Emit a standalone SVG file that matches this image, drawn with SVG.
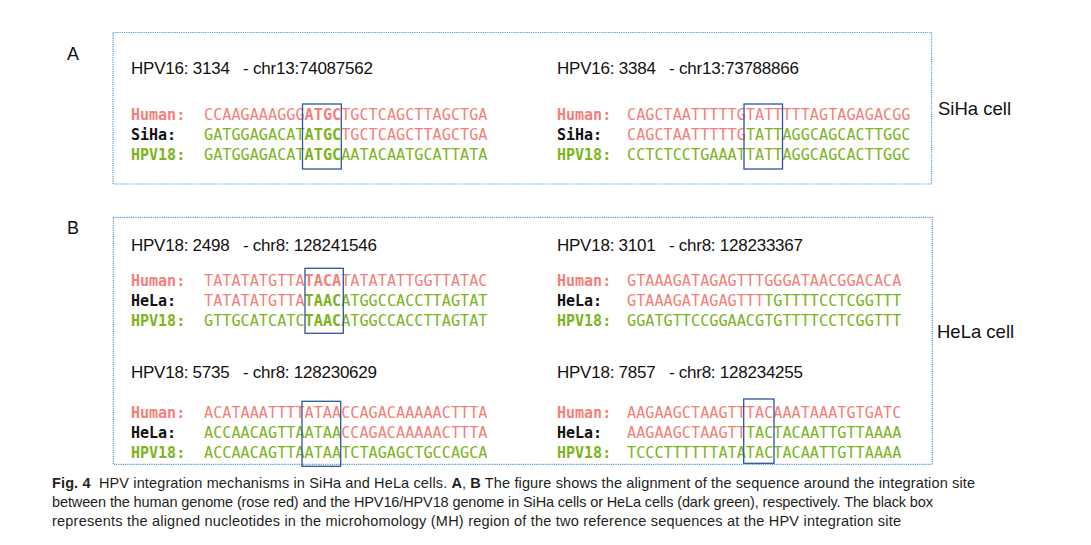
<svg xmlns="http://www.w3.org/2000/svg" width="1091" height="545" viewBox="0 0 1091 545">
<style>
.frame{fill:none;stroke:#5B9BD5;stroke-width:1.2;stroke-dasharray:1.2 1}
.mh{fill:none;stroke:#2F5597;stroke-width:1.3}
.seq{font-family:"DejaVu Sans Mono","Liberation Mono",monospace;font-size:15.2px}
.lab{font-family:"DejaVu Sans Mono","Liberation Mono",monospace;font-size:15px;font-weight:bold}
.p{fill:#F47F7A}
.g{fill:#7CB41C}
.k{fill:#111}
.b{font-weight:bold}
.hdr{font-family:"Liberation Sans",Arial,sans-serif;font-size:17px;fill:#111}
.pl{font-family:"Liberation Sans",Arial,sans-serif;font-size:18px;fill:#111}
.cell{font-family:"Liberation Sans",Arial,sans-serif;font-size:18.5px;fill:#111}
.cap{font-family:"Liberation Sans",Arial,sans-serif;font-size:14.5px;fill:#231F20}
</style>

<text class="pl" x="67" y="60">A</text>
<text class="pl" x="67" y="234">B</text>

<g id="panelA">
<rect class="frame" x="113" y="32.5" width="818.5" height="151.5"/>
<g id="A1">
<text class="hdr" x="131" y="74" textLength="242" xml:space="preserve">HPV16: 3134   - chr13:74087562</text>
<text class="lab p" x="131" y="120">Human:</text>
<text class="lab k" x="131" y="140">SiHa:</text>
<text class="lab g" x="131" y="160">HPV18:</text>
<text class="seq" x="204" y="120"><tspan class="p">CCAAGAAAGGG</tspan><tspan class="p b">ATGC</tspan><tspan class="p">TGCTCAGCTTAGCTGA</tspan></text>
<text class="seq" x="204" y="140"><tspan class="g">GATGGAGACAT</tspan><tspan class="g b">ATGC</tspan><tspan class="p">TGCTCAGCTTAGCTGA</tspan></text>
<text class="seq" x="204" y="160"><tspan class="g">GATGGAGACAT</tspan><tspan class="g b">ATGC</tspan><tspan class="g">AATACAATGCATTATA</tspan></text>
<rect class="mh" x="302.5" y="104" width="38.8" height="65"/>
</g>
<g id="A2">
<text class="hdr" x="557" y="74" textLength="242" xml:space="preserve">HPV16: 3384   - chr13:73788866</text>
<text class="lab p" x="557" y="120">Human:</text>
<text class="lab k" x="557" y="140">SiHa:</text>
<text class="lab g" x="557" y="160">HPV18:</text>
<text class="seq" x="627" y="120"><tspan class="p">CAGCTAATTTTTGTATTTTTAGTAGAGACGG</tspan></text>
<text class="seq" x="627" y="140"><tspan class="p">CAGCTAATTTTTG</tspan><tspan class="g">TATTAGGCAGCACTTGGC</tspan></text>
<text class="seq" x="627" y="160"><tspan class="g">CCTCTCCTGAAATTATTAGGCAGCACTTGGC</tspan></text>
<rect class="mh" x="744" y="104" width="38.5" height="65"/>
</g>
<text class="cell" x="938" y="115">SiHa cell</text>
</g>

<g id="panelB">
<rect class="frame" x="113.3" y="217.3" width="819" height="247"/>
<g id="B1">
<text class="hdr" x="131" y="251" textLength="246" xml:space="preserve">HPV18: 2498   - chr8: 128241546</text>
<text class="lab p" x="131" y="286">Human:</text>
<text class="lab k" x="131" y="306">HeLa:</text>
<text class="lab g" x="131" y="326">HPV18:</text>
<text class="seq" x="204" y="286"><tspan class="p">TATATATGTTA</tspan><tspan class="p b">TACA</tspan><tspan class="p">TATATATTGGTTATAC</tspan></text>
<text class="seq" x="204" y="306"><tspan class="p">TATATATGTTA</tspan><tspan class="g b">TAAC</tspan><tspan class="g">ATGGCCACCTTAGTAT</tspan></text>
<text class="seq" x="204" y="326"><tspan class="g">GTTGCATCATC</tspan><tspan class="g b">TAAC</tspan><tspan class="g">ATGGCCACCTTAGTAT</tspan></text>
<rect class="mh" x="305" y="268.3" width="38.3" height="65"/>
</g>
<g id="B2">
<text class="hdr" x="557" y="251" textLength="246" xml:space="preserve">HPV18: 3101   - chr8: 128233367</text>
<text class="lab p" x="557" y="286">Human:</text>
<text class="lab k" x="557" y="306">HeLa:</text>
<text class="lab g" x="557" y="326">HPV18:</text>
<text class="seq" x="627" y="286"><tspan class="p">GTAAAGATAGAGTTTGGGATAACGGACACA</tspan></text>
<text class="seq" x="627" y="306"><tspan class="p">GTAAAGATAGAGTTT</tspan><tspan class="g">TGTTTTCCTCGGTTT</tspan></text>
<text class="seq" x="627" y="326"><tspan class="g">GGATGTTCCGGAACGTGTTTTCCTCGGTTT</tspan></text>
</g>
<g id="B3">
<text class="hdr" x="131" y="378" textLength="246" xml:space="preserve">HPV18: 5735   - chr8: 128230629</text>
<text class="lab p" x="131" y="418">Human:</text>
<text class="lab k" x="131" y="438">HeLa:</text>
<text class="lab g" x="131" y="458">HPV18:</text>
<text class="seq" x="204" y="418"><tspan class="p">ACATAAATTTTATAACCAGACAAAAACTTTA</tspan></text>
<text class="seq" x="204" y="438"><tspan class="g">ACCAACAGTTAATAA</tspan><tspan class="p">CCAGACAAAAACTTTA</tspan></text>
<text class="seq" x="204" y="458"><tspan class="g">ACCAACAGTTAATAATCTAGAGCTGCCAGCA</tspan></text>
<rect class="mh" x="302" y="401.3" width="38.7" height="65"/>
</g>
<g id="B4">
<text class="hdr" x="557" y="378" textLength="246" xml:space="preserve">HPV18: 7857   - chr8: 128234255</text>
<text class="lab p" x="557" y="418">Human:</text>
<text class="lab k" x="557" y="438">HeLa:</text>
<text class="lab g" x="557" y="458">HPV18:</text>
<text class="seq" x="627" y="418"><tspan class="p">AAGAAGCTAAGTTTACAAATAAATGTGATC</tspan></text>
<text class="seq" x="627" y="438"><tspan class="p">AAGAAGCTAAGTT</tspan><tspan class="g">TACTACAATTGTTAAAA</tspan></text>
<text class="seq" x="627" y="458"><tspan class="g">TCCCTTTTTTATATACTACAATTGTTAAAA</tspan></text>
<rect class="mh" x="743.7" y="399" width="30.3" height="64.3"/>
</g>
<text class="cell" x="937" y="338">HeLa cell</text>
</g>

<g id="caption">
<text class="cap" x="52" y="487.5" textLength="923" xml:space="preserve"><tspan font-weight="bold">Fig. 4</tspan>  HPV integration mechanisms in SiHa and HeLa cells. <tspan font-weight="bold">A</tspan>, <tspan font-weight="bold">B</tspan> The figure shows the alignment of the sequence around the integration site</text>
<text class="cap" x="52" y="506.5" textLength="881">between the human genome (rose red) and the HPV16/HPV18 genome in SiHa cells or HeLa cells (dark green), respectively. The black box</text>
<text class="cap" x="52" y="525.5" textLength="849">represents the aligned nucleotides in the microhomology (MH) region of the two reference sequences at the HPV integration site</text>
</g>
</svg>
